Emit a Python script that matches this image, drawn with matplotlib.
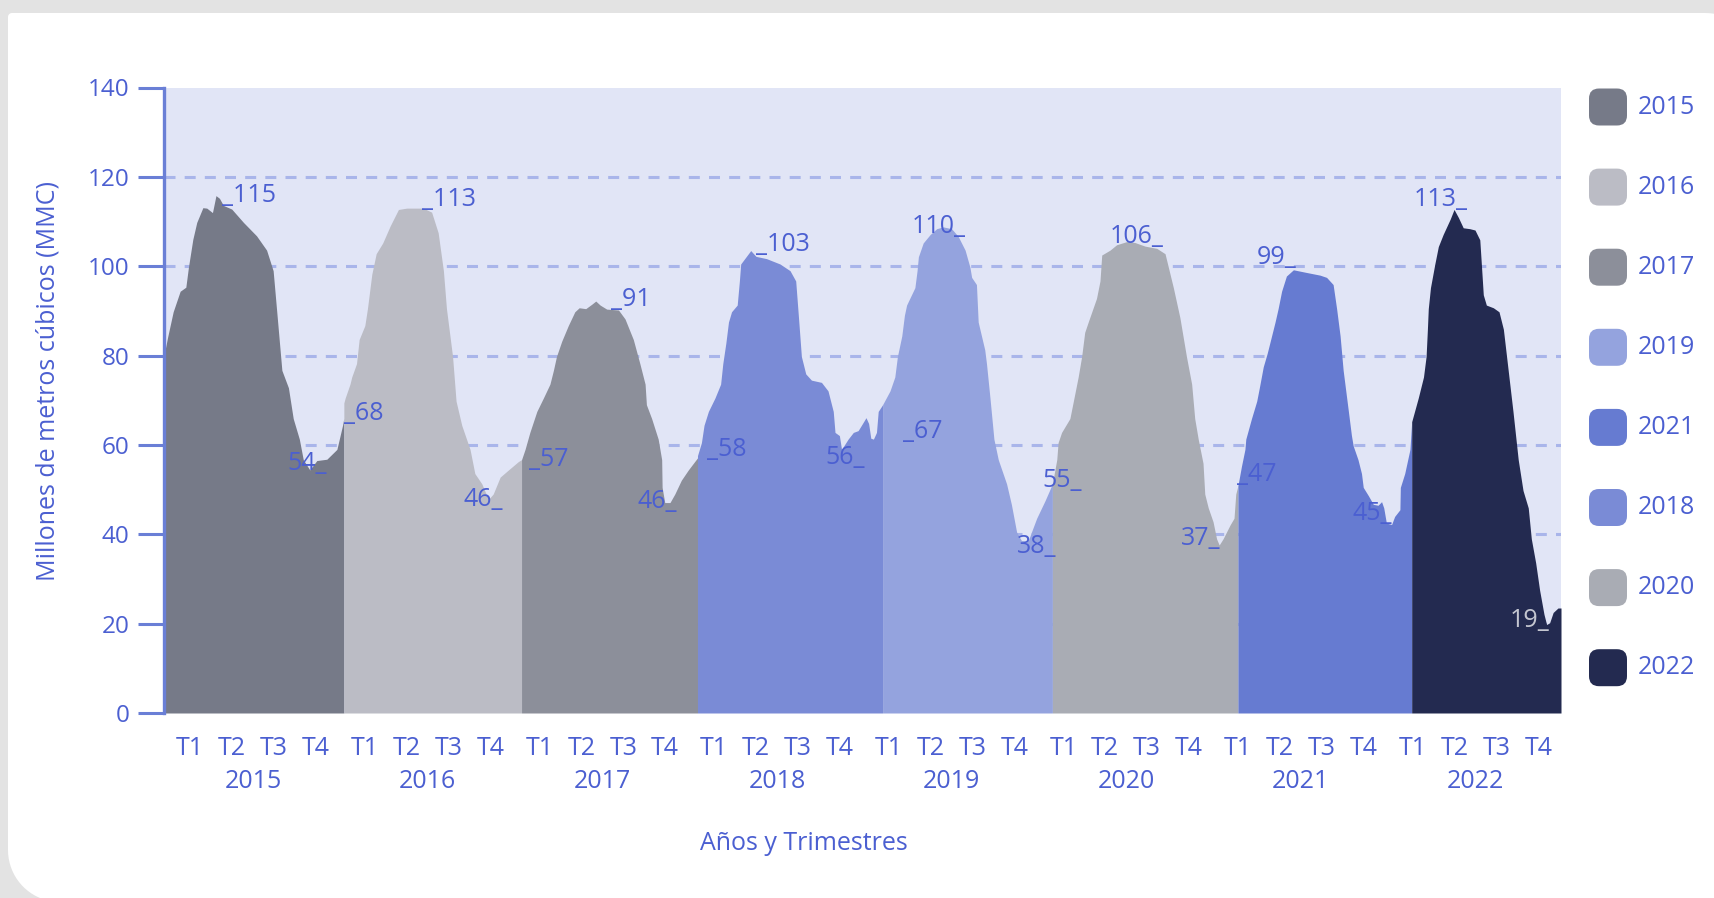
import numpy as np
import matplotlib
matplotlib.use('Agg')
import matplotlib.pyplot as plt
from matplotlib.patches import FancyBboxPatch, PathPatch
from matplotlib.path import Path
from matplotlib.transforms import IdentityTransform

plt.rcParams['font.family'] = ['Open Sans', 'DejaVu Sans']

# ---- data (x in quarter units from start of 2015, value in MMC) ----
X_2015 = [0.0, 0.08, 0.21, 0.37, 0.50, 0.56, 0.66, 0.75, 0.89, 0.98, 1.11, 1.19, 1.27, 1.36, 1.55,
          1.82, 2.12, 2.35, 2.50, 2.59, 2.70, 2.85, 2.96, 3.10, 3.19, 3.34, 3.50, 3.73, 3.96, 4.09, 4.12]
V_2015 = [80, 84, 89.8, 94.4, 95.3, 99.8, 106, 109.8, 113.1, 113, 112, 115.8, 115.2, 113.6, 112.8,
          109.8, 106.8, 103.6, 99, 89, 76.7, 72.8, 65.9, 61.3, 56.7, 54.4, 56.5, 56.8, 59, 64.4, 66]

X_2016 = [4.12, 4.15, 4.26, 4.30, 4.41, 4.47, 4.60, 4.66, 4.76, 4.86, 5.01, 5.18, 5.37, 5.56, 5.94, 6.13,
          6.28, 6.40, 6.47, 6.61, 6.69, 6.82, 7.01, 7.12, 7.28, 7.43, 7.54, 7.70, 7.89, 8.12, 8.19]
V_2016 = [69.4, 70.5, 73.6, 75.2, 78.2, 83.6, 86.7, 90.5, 98.2, 102.8, 105.2, 109, 112.7, 113, 113, 112.1,
          107.5, 99, 90.5, 79.8, 69.8, 64.4, 59, 53.6, 51.3, 47.8, 49, 52.8, 54.4, 56.3, 56.7]

X_2017 = [8.19, 8.27, 8.38, 8.54, 8.69, 8.84, 8.92, 8.99, 9.11, 9.26, 9.41, 9.51, 9.66, 9.80, 9.89, 9.99,
          10.14, 10.41, 10.56, 10.75, 10.90, 11.02, 11.05, 11.17, 11.32, 11.40, 11.41, 11.47, 11.59,
          11.70, 11.85, 12.01, 12.22]
V_2017 = [56.7, 59, 62.8, 67.5, 70.5, 73.6, 76.7, 79.8, 83.2, 86.7, 89.8, 90.7, 90.5, 91.5, 92.2, 91.3,
          90.4, 90.2, 88.2, 83.6, 78.2, 73.6, 69, 65.9, 61.3, 56.7, 50.5, 47.1, 47.1,
          49, 52.1, 54.4, 57.1]

X_2018 = [12.22, 12.31, 12.37, 12.47, 12.62, 12.75, 12.80, 12.87, 12.93, 13.00, 13.13, 13.18, 13.21,
          13.34, 13.44, 13.56, 13.80, 14.11, 14.34, 14.47, 14.53, 14.60, 14.70, 14.83, 15.06, 15.21,
          15.33, 15.37, 15.47, 15.52, 15.67, 15.79, 15.90, 16.00, 16.08, 16.14, 16.19, 16.25, 16.32,
          16.36, 16.46]
V_2018 = [57.6, 60.5, 64.4, 67.5, 70.5, 73.6, 78.2, 82.8, 87.5, 89.8, 91.3, 96.7, 100.5,
          102.2, 103.5, 102.2, 101.7, 100.5, 99, 96.7, 89, 79.8, 75.9, 74.5, 74, 72.1,
          67.5, 62.8, 62.1, 59, 61.3, 62.8, 63.2, 64.8, 66.1, 64.8, 61.5, 61.3, 62.8,
          67.5, 69]

X_2019 = [16.46, 16.63, 16.74, 16.80, 16.90, 16.96, 17.01, 17.20, 17.25, 17.28, 17.39, 17.55, 17.70,
          17.85, 18.04, 18.19, 18.35, 18.46, 18.50, 18.61, 18.65, 18.80, 18.84, 18.92, 19.01, 19.11,
          19.30, 19.41, 19.53, 19.64, 19.80, 19.87, 19.99, 20.18, 20.35]
V_2019 = [69, 72.1, 75.2, 79.8, 84.4, 89, 91.3, 95.2, 99, 102.1, 105.2, 107.1, 108.4,
          108.8, 108.4, 106.7, 103.6, 99.8, 97.5, 95.9, 87.5, 81.3, 78.2, 70.5, 61.3, 56.7,
          51.3, 46.7, 40.5, 38.6, 38.6, 40.5, 43.6, 47.5, 51.3]

X_2020 = [20.35, 20.45, 20.48, 20.56, 20.75, 20.83, 20.94, 21.02, 21.09, 21.17, 21.36, 21.44, 21.48,
          21.67, 21.82, 22.05, 22.24, 22.47, 22.74, 22.93, 23.12, 23.27, 23.42, 23.54, 23.61, 23.69,
          23.80, 23.84, 23.92, 24.03, 24.11, 24.17, 24.26, 24.42, 24.51, 24.55, 24.60]
V_2020 = [51.3, 56.7, 60.5, 62.8, 65.9, 69.8, 75.2, 79.8, 85.2, 87.5, 92.8, 96.7, 102.5,
          103.6, 104.8, 105.5, 105.3, 104.5, 104, 102.8, 95.2, 88.5, 79.8, 73.6, 65.9, 61.3,
          55.9, 49, 45.9, 42.8, 39, 37.6, 39, 42.1, 43.6, 49, 50.9]

X_2021 = [24.60, 24.68, 24.76, 24.78, 24.91, 25.03, 25.09, 25.18, 25.27, 25.35, 25.45, 25.52, 25.60,
          25.71, 25.87, 26.17, 26.48, 26.63, 26.78, 26.86, 26.94, 27.01, 27.13, 27.20, 27.24, 27.35,
          27.43, 27.47, 27.59, 27.70, 27.81, 27.89, 27.94, 28.00, 28.12, 28.19, 28.31, 28.32, 28.42,
          28.54, 28.58]
V_2021 = [50.9, 55.2, 59, 61.3, 65.9, 69.8, 72.8, 77.5, 80.5, 83.6, 87.5, 90.5, 94.4,
          97.8, 99.2, 98.6, 98, 97.5, 95.9, 90.5, 84.4, 76.7, 67.5, 62.1, 59.8, 56.7,
          53.6, 50.5, 48.6, 46.7, 46.5, 47.3, 45.9, 42.5, 42.2, 44, 45.5, 50.5, 53.6,
          59, 65.2]

X_2022 = [28.58, 28.73, 28.85, 28.91, 28.94, 28.96, 29.01, 29.11, 29.19, 29.30, 29.46, 29.55, 29.65,
          29.76, 29.91, 30.03, 30.14, 30.18, 30.22, 30.29, 30.45, 30.58, 30.68, 30.79, 30.90, 31.02,
          31.13, 31.25, 31.32, 31.42, 31.51, 31.61, 31.67, 31.74, 31.82, 31.93, 32.0]
V_2022 = [65.2, 70.5, 75.2, 79.8, 85.9, 90.5, 95.2, 100.5, 104.4, 107.1, 110.5, 112.7, 110.9,
          108.6, 108.4, 108.1, 105.9, 99.8, 93.6, 91.3, 90.7, 89.8, 85.9, 76.7, 67.5, 56.7,
          49.8, 45.9, 39, 33.6, 27.5, 22.1, 19.8, 20.2, 22.5, 23.5, 23.5]

YEARS = ['2015', '2016', '2017', '2018', '2019', '2020', '2021', '2022']
QUARTERS = ['T1', 'T2', 'T3', 'T4']

# value labels: text, x, baseline y
LABEL_TEXT = ['_115', '54_', '_68', '_113', '46_', '_57', '_91', '46_', '_58', '_103', '56_',
              '_67', '110_', '38_', '55_', '106_', '37_', '_47', '99_', '45_', '113_', '19_']
LABEL_X = [1.34, 3.74, 4.12, 5.92, 7.77, 8.37, 10.25, 11.76, 12.44, 13.57, 16.06,
           16.92, 18.37, 20.44, 21.03, 22.89, 24.19, 24.58, 25.93, 28.12, 29.87, 31.73]
LABEL_Y = [114.4, 54.5, 65.5, 113.5, 46.3, 55.2, 91.2, 45.9, 57.6, 103.5, 55.8,
           61.5, 107.5, 35.9, 50.5, 105.3, 37.6, 51.9, 100.4, 43.2, 113.5, 19.2]

LEGEND_ORDER = ['2015', '2016', '2017', '2019', '2021', '2018', '2020', '2022']

COLORS = {
    '2015': '#767a88',
    '2016': '#bbbcc5',
    '2017': '#8c8f9a',
    '2018': '#7a8bd6',
    '2019': '#94a3de',
    '2020': '#a9acb4',
    '2021': '#667bd1',
    '2022': '#232a50',
}
TEXT_C = '#4b5fd1'
AXIS_C = '#6a7fd6'
GRID_C = '#a9b5ea'
PLOT_BG = '#e1e5f6'

SERIES = [(X_2015, V_2015), (X_2016, V_2016), (X_2017, V_2017), (X_2018, V_2018),
          (X_2019, V_2019), (X_2020, V_2020), (X_2021, V_2021), (X_2022, V_2022)]

W, H = 1715, 898
FS = 18


def card_path(x0, y0, x1, y1, r_tl, r_tr, r_br, r_bl):
    """rounded rect in pixel coords (y up), each corner its own radius"""
    verts = []

    def arc(cx, cy, r, a0, a1):
        for a in np.linspace(a0, a1, 20):
            verts.append((cx + r * np.cos(a), cy + r * np.sin(a)))

    arc(x0 + r_bl, y0 + r_bl, r_bl, np.pi, 1.5 * np.pi)
    arc(x1 - r_br, y0 + r_br, r_br, 1.5 * np.pi, 2 * np.pi)
    arc(x1 - r_tr, y1 - r_tr, r_tr, 0, 0.5 * np.pi)
    arc(x0 + r_tl, y1 - r_tl, r_tl, 0.5 * np.pi, np.pi)
    verts.append(verts[0])
    return Path(verts, closed=True)


fig = plt.figure(figsize=(W / 100, H / 100), dpi=100)
fig.patch.set_facecolor('#e3e3e3')

card = PathPatch(card_path(8, -4, 1765, H - 13, 4, 60, 60, 52),
                 facecolor='white', edgecolor='none', zorder=-5)
card.set_transform(IdentityTransform())
fig.add_artist(card)

ax = fig.add_axes([164 / W, (H - 713) / H, (1561 - 164) / W, (713 - 87.5) / H])
ax.set_facecolor(PLOT_BG)
ax.set_xlim(0, 32)
ax.set_ylim(0, 140)

for g in [20, 40, 60, 80, 100, 120]:
    ax.axhline(g, color=GRID_C, lw=2.2, dashes=(3.6, 3.0), zorder=1)

for year, (xs, vs) in zip(YEARS, SERIES):
    ax.fill_between(xs, vs, 0, color=COLORS[year], lw=0, zorder=2)

for s, x, y in zip(LABEL_TEXT, LABEL_X, LABEL_Y):
    ha = 'left' if s.startswith('_') else 'right'
    col = '#c4c6d0' if s == '19_' else TEXT_C
    ax.text(x, y, s, ha=ha, va='baseline', fontsize=FS, color=col, zorder=4)

for side in ['top', 'right', 'bottom']:
    ax.spines[side].set_visible(False)
ax.spines['left'].set_color(AXIS_C)
ax.spines['left'].set_linewidth(2.4)
ax.spines['left'].set_zorder(5)

ax.set_yticks(range(0, 141, 20))
ax.tick_params(axis='y', length=19, width=2.2, color=AXIS_C, pad=6,
               labelsize=17.5, labelcolor=TEXT_C)
ax.set_xticks([])

# quarter and year labels under the axis
tr = ax.get_xaxis_transform()
for i, year in enumerate(YEARS):
    for q, lab in enumerate(QUARTERS):
        ax.text(4 * i + 0.6 + 0.96 * q, -0.056, lab, transform=tr, ha='center', va='center',
                fontsize=FS, color=TEXT_C, clip_on=False)
    ax.text(4 * i + 2.04, -0.109, year, transform=tr, ha='center', va='center',
            fontsize=FS, color=TEXT_C, clip_on=False)

fig.text(48 / W, (H - 381) / H, 'Millones de metros cúbicos (MMC)', rotation=90,
         ha='center', va='center', fontsize=FS, color=TEXT_C)
fig.text(804 / W, (H - 844) / H, 'Años y Trimestres', ha='center', va='center',
         fontsize=FS, color=TEXT_C)

# legend: rounded swatches on the right
for i, year in enumerate(LEGEND_ORDER):
    cy = H - (107 + 80.1 * i)
    sw = FancyBboxPatch((1589, cy - 18.5), 38, 37, boxstyle='round,pad=0,rounding_size=10',
                        facecolor=COLORS[year], edgecolor='none')
    sw.set_transform(IdentityTransform())
    fig.add_artist(sw)
    fig.text(1638 / W, cy / H, year, ha='left', va='center', fontsize=FS, color=TEXT_C)

fig.savefig('out.png', dpi=100, facecolor=fig.get_facecolor())
plt.close(fig)
